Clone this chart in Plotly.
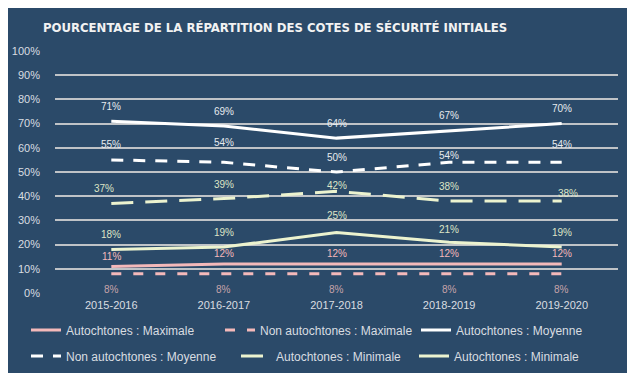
import plotly.graph_objects as go

categories = ["2015-2016", "2016-2017", "2017-2018", "2018-2019", "2019-2020"]

auto_max = [11, 12, 12, 12, 12]
non_auto_max = [8, 8, 8, 8, 8]
auto_moy = [71, 69, 64, 67, 70]
non_auto_moy = [55, 54, 50, 54, 54]
auto_min_dash = [37, 39, 42, 38, 38]
auto_min = [18, 19, 25, 21, 19]

tick_vals = [0, 10, 20, 30, 40, 50, 60, 70, 80, 90, 100]
tick_text = [f"{v}%" for v in tick_vals]

BG = "#2B4A69"
PINK = "#F4B9BA"
WHITE = "#FFFFFF"
CREAM = "#ECF3CF"
GRID = "#BFC3C7"
TXT = "#D9DDE1"

# page has an 8px body margin: figure sized/positioned to compensate
W, H = 627, 365

series = [
    ("Autochtones : Maximale", auto_max, PINK, "solid", 3, PINK, [10] * 5, [0] * 5, "legend"),
    ("Non autochtones : Maximale", non_auto_max, PINK, "10px,12px", 3, "#C6A3AA", [-16] * 5, [0] * 5, "legend2"),
    ("Autochtones : Moyenne", auto_moy, WHITE, "solid", 3, "#E6EAEE", [15] * 5, [0] * 5, "legend3"),
    ("Non autochtones : Moyenne", non_auto_moy, WHITE, "12px,10px", 3, "#E6EAEE", [15, 20, 15, 7, 18], [0] * 5, "legend4"),
    ("Autochtones : Minimale", auto_min_dash, CREAM, "22px,12px", 3, "#DDE5C6", [15, 14, 6, 15, 8], [-7, 0, 0, 0, 6], "legend5"),
    ("Autochtones : Minimale ", auto_min, CREAM, "solid", 3, "#DDE5C6", [15, 15, 17, 13, 15], [0] * 5, "legend6"),
]

fig = go.Figure()
annotations = []
for name, vals, color, dash, w, lblc, ysh, xsh, lg in series:
    fig.add_trace(go.Scatter(
        x=categories, y=vals, mode="lines", name=name,
        line=dict(color=color, width=w, dash=dash),
        hoverinfo="skip", legend=lg,
    ))
    for c, v, ys, xs in zip(categories, vals, ysh, xsh):
        annotations.append(dict(
            x=c, y=v, text=f"{v}%", showarrow=False,
            yshift=ys, xshift=xs,
            font=dict(family="Liberation Sans, Arial", size=10, color=lblc),
        ))

legend_common = dict(
    orientation="h", xref="container", yref="container",
    xanchor="left", yanchor="middle", entrywidth=0,
    font=dict(family="Liberation Sans, Arial", size=12, color=TXT),
    bgcolor="rgba(0,0,0,0)",
)

row1_y = 1 - 322 / H
row2_y = 1 - 348 / H

fig.update_layout(
    width=W, height=H,
    paper_bgcolor=BG, plot_bgcolor=BG,
    margin=dict(l=47, r=17, t=43, b=80, autoexpand=False),
    title=dict(
        text="<b>POURCENTAGE DE LA RÉPARTITION DES COTES DE SÉCURITÉ INITIALES</b>",
        x=35 / W, xanchor="left", xref="container",
        y=1 - 19 / H, yanchor="middle", yref="container",
        font=dict(family="Liberation Sans Narrow, DejaVu Sans Condensed, Arial Narrow, Liberation Sans", size=13, color="#F2F2F2"),
    ),
    xaxis=dict(
        type="category", range=[-0.5, 4.5],
        showgrid=False, zeroline=False, showline=False, automargin=False,
        ticks="", tickfont=dict(family="Liberation Sans, Arial", size=11, color=TXT),
        ticklabelstandoff=4,
    ),
    yaxis=dict(
        range=[0, 100], tickvals=tick_vals, ticktext=tick_text,
        showgrid=True, gridcolor=GRID, gridwidth=1.5, automargin=False,
        zeroline=False, showline=False, ticks="",
        tickfont=dict(family="Liberation Sans, Arial", size=11, color=TXT),
        ticklabelstandoff=14,
    ),
    legend=dict(legend_common, x=18 / W, y=row1_y),
    legend2=dict(legend_common, x=212 / W, y=row1_y),
    legend3=dict(legend_common, x=408 / W, y=row1_y),
    legend4=dict(legend_common, x=18 / W, y=row2_y),
    legend5=dict(legend_common, x=228 / W, y=row2_y),
    legend6=dict(legend_common, x=406 / W, y=row2_y),
    annotations=annotations,
    showlegend=True,
)

fig.write_html("out.html")
